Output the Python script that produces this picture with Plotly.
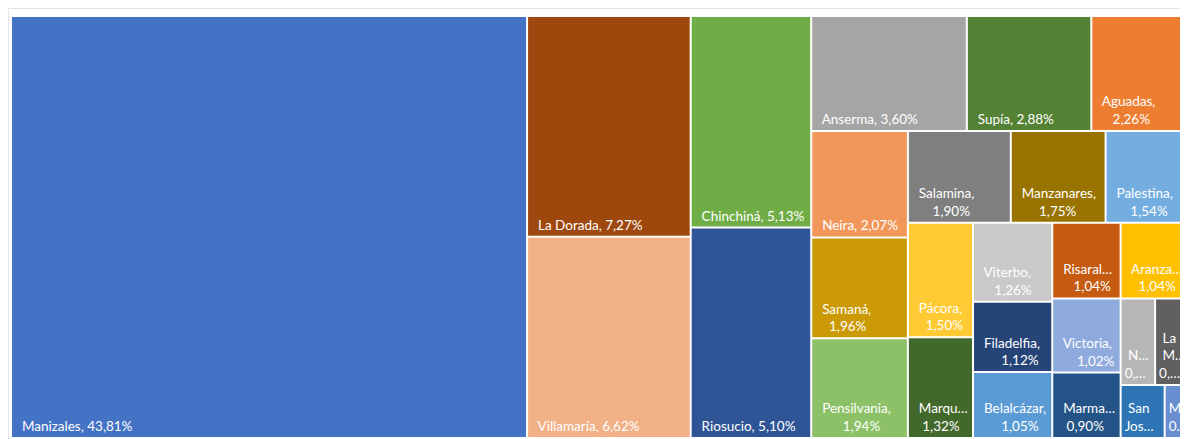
import plotly.graph_objects as go

# --- data -------------------------------------------------------------
municipios = ["Manizales", "La Dorada", "Villamaría", "Chinchiná", "Riosucio",
              "Anserma", "Supía", "Aguadas", "Neira", "Samaná", "Pensilvania",
              "Salamina", "Manzanares", "Palestina", "Pácora", "Marquetalia",
              "Viterbo", "Filadelfia", "Belalcázar", "Risaralda", "Aranzazu",
              "Victoria", "Marmato", "Norcasia", "La Merced", "San José", "Marulanda"]
porcentajes = [43.81, 7.27, 6.62, 5.13, 5.10,
               3.60, 2.88, 2.26, 2.07, 1.96, 1.94,
               1.90, 1.75, 1.54, 1.50, 1.32,
               1.26, 1.12, 1.05, 1.04, 1.04,
               1.02, 0.90, 0.60, 0.59, 0.47, 0.26]
# grouping used by the Excel treemap layout (hidden intermediate nodes)
grupo = ["", "g1", "g1", "g2", "g2",
         "g3r1", "g3r1", "g3r1", "c1", "c1", "c1",
         "c2s", "c2s", "c2s", "p", "p",
         "v", "v", "v", "w1", "w1",
         "y", "y", "z1", "z1", "z2", "z2"]
grupos = ["g1", "g2", "g3", "g3r1", "g3r2", "c1", "c2", "c2s", "q",
          "p", "v", "w", "w1", "x", "y", "z", "z1", "z2"]
grupos_padre = ["", "", "", "g3", "g3", "g3r2", "g3r2", "c2", "c2",
                "q", "q", "q", "w", "w", "x", "x", "z", "z"]
colores = ["#4472C4", "#9E480E", "#F2B086", "#70AD47", "#2F5597",
           "#A5A5A5", "#548235", "#ED7D31", "#F1975A", "#CC9A06", "#8CC168",
           "#7F7F7F", "#997300", "#74AEE0", "#FFCA33", "#43682B",
           "#C9C9C9", "#264478", "#5B9BD5", "#C55A11", "#FFC000",
           "#8FAADC", "#245487", "#B7B7B7", "#606060", "#2E75B6", "#698ED0"]
una_linea = {"Manizales", "La Dorada", "Villamaría", "Chinchiná", "Riosucio",
             "Anserma", "Supía", "Neira"}
recortes = {"Marquetalia": ["Marqu…", None], "Risaralda": ["Risaral…", None],
            "Aranzazu": ["Aranza…", None], "Marmato": ["Marma…", None],
            "Norcasia": ["N…", "0,…"], "La Merced": ["La", "M…", "0,…"],
            "San José": ["San", "Jos…"], "Marulanda": ["M…", "0…"]}
estrechos = {"Norcasia", "La Merced", "San José", "Marulanda"}


def pct(v):
    return f"{v:.2f}".replace(".", ",") + "%"


def etiqueta(nombre, valor):
    nb = "\u00a0"
    if nombre in una_linea:
        return nb * 2 + f"{nombre}, {pct(valor)}"
    if nombre in recortes:
        lineas = [pct(valor) if s is None else s for s in recortes[nombre]]
    else:
        lineas = [nombre + ",", pct(valor)]
    base = 0 if nombre in estrechos else 2
    mx = max(len(s) for s in lineas)
    out = []
    for s in lineas:
        pad = int(round((mx - len(s)) * 0.9))
        out.append(nb * base + nb * pad + s)
    return "<br>".join(out)


ids = municipios + grupos
labels = municipios + [""] * len(grupos)
parents = grupo + grupos_padre
values = porcentajes + [0] * len(grupos)
colors = colores + ["rgba(255,255,255,0)"] * len(grupos)
texts = [etiqueta(n, v) for n, v in zip(municipios, porcentajes)] + [""] * len(grupos)

fig = go.Figure(go.Treemap(
    ids=ids, labels=labels, parents=parents, values=values,
    branchvalues="remainder", sort=False,
    text=texts, texttemplate="%{text}",
    textposition="bottom left",
    textfont=dict(family="Lato, Open Sans, sans-serif", size=13.5, color="white"),
    marker=dict(colors=colors, line=dict(color="white", width=0),
                pad=dict(t=0, l=0, r=0, b=0)),
    tiling=dict(packing="slice-dice", pad=2),
    pathbar=dict(visible=False),
    root=dict(color="white"),
    hoverinfo="skip",
))
# page body has an 8px default margin, so the figure is sized to fit the window
fig.update_layout(
    width=1180, height=431,
    margin=dict(l=4, r=0, t=9, b=2),
    paper_bgcolor="white",
    uniformtext=dict(minsize=13.5, mode="show"),
    showlegend=False,
)
fig.add_shape(type="line", xref="paper", yref="paper",
              x0=-3.5 / 1176, x1=1.01, y0=1 + 8.5 / 420, y1=1 + 8.5 / 420,
              line=dict(color="#E4E4E4", width=1))
fig.add_shape(type="line", xref="paper", yref="paper",
              x0=-3.5 / 1176, x1=-3.5 / 1176, y0=-0.01, y1=1 + 8.5 / 420,
              line=dict(color="#E4E4E4", width=1))
fig.write_html("out.html")
